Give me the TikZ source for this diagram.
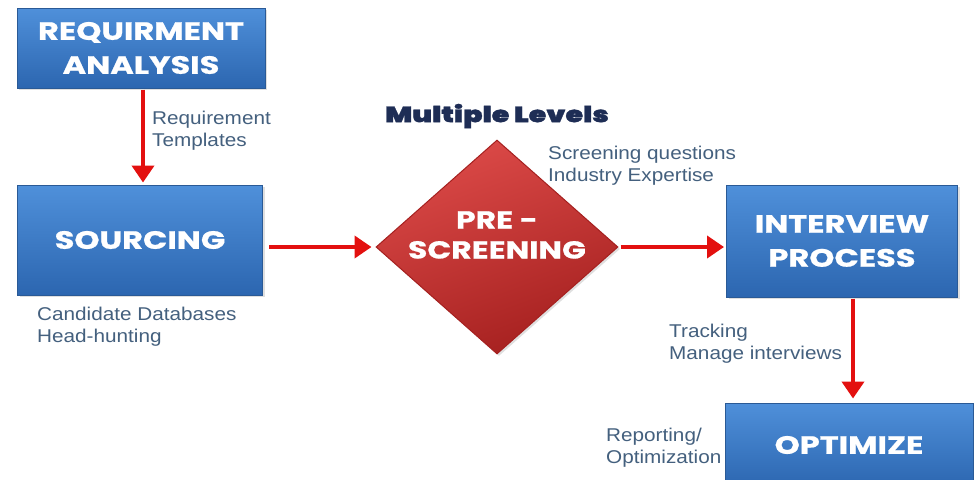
\documentclass[tikz,border=0pt]{standalone}
\usepackage{fontspec}
\setmainfont{Liberation Sans}
\newfontfamily\lblfont[FakeStretch=1.12]{Liberation Sans}
\newfontfamily\boxfont[FakeStretch=1.28,FakeBold=0.8]{Poppins Bold}
\newfontfamily\headfont[FakeStretch=1.3,FakeBold=1.5]{Poppins Black}
\usetikzlibrary{shapes.geometric,arrows.meta,shadows}
\definecolor{boxtop}{HTML}{4F90DA}
\definecolor{boxbot}{HTML}{2C66B0}
\definecolor{boxedge}{HTML}{2A5A96}
\definecolor{redtop}{HTML}{DC4A48}
\definecolor{redbot}{HTML}{A5201F}
\definecolor{arrowred}{HTML}{E3100F}
\definecolor{labelcol}{HTML}{44607E}
\definecolor{headcol}{HTML}{1E2D55}
\tikzset{
  boxtext/.style={text=white, font=\boxfont\fontsize{25}{34}\selectfont, align=center},
  stepbox/.style={rectangle, draw=boxedge, line width=1pt, top color=boxtop, bottom color=boxbot,
    boxtext, inner sep=0pt,
    drop shadow={shadow xshift=2pt, shadow yshift=-2pt, opacity=0.25}},
  prebox/.style={diamond, draw=redbot, line width=1pt, shading=axis, top color=redtop, bottom color=redbot,
    shading angle=20, inner sep=0pt, minimum width=242pt, minimum height=214pt,
    drop shadow={shadow xshift=2pt, shadow yshift=-2pt, opacity=0.25}},
  flow/.style={draw=arrowred, line width=4pt, -{Triangle[width=22pt,length=17pt]}},
  lbl/.style={anchor=west, align=left, text=labelcol, font=\lblfont\fontsize{18.5}{22}\selectfont, inner sep=0pt}
}
\begin{document}
\begin{tikzpicture}[x=1pt,y=-1pt]
\useasboundingbox[fill=white] (0,0) rectangle (974,479);
\node[stepbox, minimum width=248pt, minimum height=80pt] (req) at (141,48) {REQUIRMENT\\ANALYSIS};
\node[stepbox, minimum width=245pt, minimum height=110pt] (src) at (140,240) {SOURCING};
\node[prebox] (pre) at (497,247) {};
\node[boxtext, font=\boxfont\fontsize{24.5}{30}\selectfont, inner sep=0pt] (pretext) at ([yshift=12pt]pre.center) {PRE -\\SCREENING};
\node[stepbox, minimum width=231pt, minimum height=112pt] (int) at (842,241) {INTERVIEW\\PROCESS};
\node[stepbox, minimum width=248pt, minimum height=84pt] (opt) at (849,445) {OPTIMIZE};

\draw[flow, shorten <=1pt, shorten >=2pt] ([xshift=2pt]req.south) -- ([xshift=3pt]src.north);
\draw[flow, shorten <=6pt, shorten >=4pt] (src.east |- pre.west) -- (pre.west);
\draw[flow, shorten <=2pt, shorten >=2pt] (pre.east) -- (int.west |- pre.east);
\draw[flow, shorten <=1pt, shorten >=4pt] ([xshift=11pt]int.south) -- ([xshift=4pt]opt.north);

\node[lbl] (l1) at (152,131) {Requirement\\Templates};
\node[lbl] (l2) at (37,327) {Candidate Databases\\Head-hunting};
\node[lbl] (l3) at (548,166) {Screening questions\\Industry Expertise};
\node[lbl] (l4) at (669,344) {Tracking\\Manage interviews};
\node[lbl] (l5) at (606,448) {Reporting/\\Optimization};
\node[text=headcol, font=\headfont\fontsize{22}{26}\selectfont, inner sep=0pt] (ml) at (497,116) {Multiple Levels};
\end{tikzpicture}
\end{document}
